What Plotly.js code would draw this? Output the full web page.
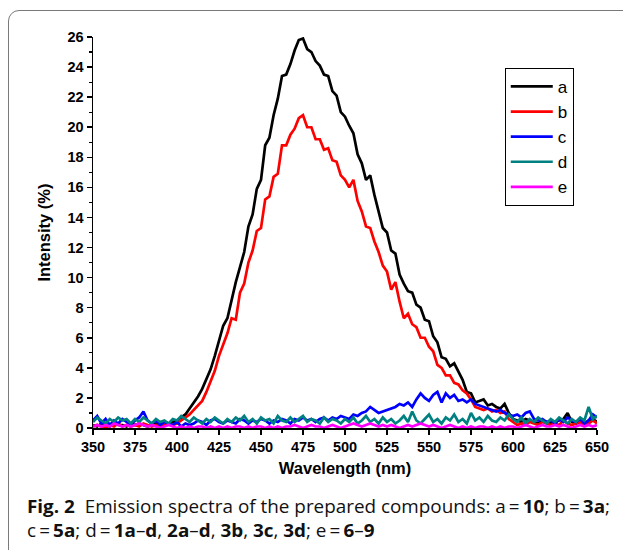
<!DOCTYPE html>
<html>
<head>
<meta charset="utf-8">
<script src="https://cdn.plot.ly/plotly-3.0.1.min.js"></script>
<style>
  html, body { margin: 0; padding: 0; background: #fff; }
  #wrap { position: relative; width: 623px; height: 550px; overflow: hidden; }
  #frame { position: absolute; left: 8px; top: 10px; width: 700px; height: 600px;
           border: 1px solid #7a7a7a; border-radius: 11px; box-sizing: border-box; }
  #chart { position: absolute; left: 0; top: 0; width: 623px; height: 550px; }
  .cap { position: absolute; left: 27px; font-family: "Open Sans", "Noto Sans", sans-serif;
         font-size: 18px; color: #111; white-space: nowrap; transform-origin: 0 0; }
  .cap b { font-weight: 700; }
</style>
</head>
<body>
<div id="wrap">
  <div id="frame"></div>
  <div id="chart"></div>
  <div class="cap" id="cap1" style="top:494px;"><b>Fig. 2</b>&nbsp; Emission spectra of the prepared compounds: a&#8201;=&#8201;<b>10</b>; b&#8201;=&#8201;<b>3a</b>;</div>
  <div class="cap" id="cap2" style="top:518px;">c&#8201;=&#8201;<b>5a</b>; d&#8201;=&#8201;<b>1a</b>–<b>d</b>, <b>2a</b>–<b>d</b>, <b>3b</b>, <b>3c</b>, <b>3d</b>; e&#8201;=&#8201;<b>6</b>–<b>9</b></div>
</div>
<script>
// Wavelength grid (nm)
const wavelength = [350,352.5,355,357.5,360,362.5,365,367.5,370,372.5,375,377.5,380,382.5,385,387.5,390,392.5,395,397.5,
400,402.5,405,407.5,410,412.5,415,417.5,420,422.5,425,427.5,430,432.5,435,437.5,440,442.5,445,447.5,
450,452.5,455,457.5,460,462.5,465,467.5,470,472.5,475,477.5,480,482.5,485,487.5,490,492.5,495,497.5,
500,502.5,505,507.5,510,512.5,515,517.5,520,522.5,525,527.5,530,532.5,535,537.5,540,542.5,545,547.5,
550,552.5,555,557.5,560,562.5,565,567.5,570,572.5,575,577.5,580,582.5,585,587.5,590,592.5,595,597.5,
600,602.5,605,607.5,610,612.5,615,617.5,620,622.5,625,627.5,630,632.5,635,637.5,640,642.5,645,647.5,650];

// Series a (black)
const seriesA = [0.2,0.1,0.3,0.2,0.1,0.3,0.2,0.2,0.1,0.3,0.2,0.3,0.2,0.1,0.2,0.3,0.2,0.4,0.3,0.4,
0.5,0.7,0.9,1.3,1.7,2.1,2.6,3.2,3.9,4.8,5.8,6.8,7.3,8.6,9.7,10.7,11.7,13.4,14.2,15.9,
16.5,18.8,19.3,20.8,21.9,23.4,23.5,24.2,25.1,25.8,25.9,25.2,25.0,24.4,24.1,23.5,23.4,22.4,22.1,21.0,
20.7,20.1,19.6,18.2,17.6,16.5,16.8,15.5,14.4,13.3,13.0,11.8,11.6,10.2,9.6,9.1,9.0,8.2,8.0,7.2,
7.1,6.1,5.7,4.7,4.6,4.1,4.3,3.7,3.2,2.4,2.3,1.7,1.8,1.9,1.5,1.6,1.4,1.3,1.6,1.0,
0.6,0.5,0.4,0.6,0.5,0.4,0.3,0.5,0.4,0.3,0.4,0.5,0.6,1.0,0.4,0.3,0.4,0.3,0.5,0.6,0.4];

// Series b (red)
const seriesB = [0.1,0.2,0.1,0.0,0.2,0.1,0.3,0.1,0.2,0.1,0.2,0.1,0.3,0.2,0.1,0.2,0.1,0.2,0.3,0.2,
0.3,0.5,0.7,0.9,1.2,1.5,1.8,2.4,3.1,3.8,4.8,5.6,6.3,7.3,7.2,9.0,9.6,11.0,11.8,13.1,
13.3,15.2,15.4,16.7,16.9,18.8,18.8,19.5,19.9,20.6,20.8,20.0,20.0,19.2,19.2,18.5,18.6,17.8,17.7,16.8,
16.5,16.0,16.5,15.1,14.4,13.4,13.3,12.4,11.7,10.8,10.4,9.2,9.7,8.4,7.3,7.6,6.9,6.7,6.0,6.0,
5.4,5.1,4.2,4.0,3.5,3.5,3.0,2.9,2.5,2.3,1.9,1.4,1.3,1.2,1.3,1.1,1.2,1.0,1.1,0.6,
0.4,0.2,0.3,0.2,0.4,0.3,0.2,0.4,0.3,0.2,0.3,0.2,0.5,0.3,0.2,0.3,0.4,0.2,0.3,0.5,0.3];

// Series c (blue)
const seriesC = [0.5,0.8,0.3,0.6,0.2,0.5,0.3,0.6,0.4,0.2,0.5,0.7,1.1,0.5,0.3,0.5,0.2,0.4,0.3,0.2,
0.4,0.1,0.3,0.2,0.3,0.5,0.4,0.2,0.5,0.6,0.4,0.3,0.5,0.4,0.3,0.6,0.5,0.3,0.5,0.4,
0.6,0.5,0.3,0.5,0.4,0.6,0.5,0.3,0.6,0.5,0.7,0.5,0.6,0.4,0.6,0.7,0.5,0.7,0.6,0.8,
0.7,0.6,0.9,0.8,1.0,1.1,1.4,1.2,1.0,1.1,1.2,1.3,1.4,1.6,1.5,1.7,1.4,1.9,2.3,2.0,
1.8,2.2,2.4,1.7,2.3,2.0,2.2,1.8,1.9,1.7,1.9,1.6,1.5,1.4,1.3,1.2,1.1,1.2,1.0,0.9,
0.8,0.9,0.7,1.0,1.1,0.6,0.5,0.6,0.4,0.5,0.3,0.6,0.4,0.7,0.5,0.4,0.6,0.3,0.5,0.9,0.7];

// Series d (teal)
const seriesD = [0.4,0.7,0.5,0.3,0.6,0.4,0.7,0.5,0.6,0.3,0.6,0.4,0.7,0.5,0.3,0.6,0.4,0.5,0.3,0.6,
0.5,0.8,0.6,0.4,0.7,0.5,0.3,0.6,0.4,0.7,0.5,0.3,0.6,0.4,0.7,0.5,0.8,0.4,0.6,0.3,
0.7,0.5,0.6,0.3,0.8,0.5,0.4,0.7,0.4,0.6,0.8,0.4,0.6,0.5,0.3,0.7,0.4,0.6,0.5,0.3,
0.6,0.4,0.7,0.3,0.5,0.8,0.4,0.6,0.3,0.7,0.4,0.6,0.3,0.5,0.8,0.4,1.1,0.5,0.3,0.6,
0.9,0.4,0.6,0.3,0.7,0.5,0.9,0.4,0.6,0.3,1.0,0.5,0.7,0.4,0.8,0.5,0.4,0.7,0.5,0.9,
0.6,0.4,0.7,0.3,0.6,0.4,0.7,0.5,0.3,0.6,0.4,0.7,0.5,0.3,0.6,0.4,0.7,0.5,1.4,0.6,0.8];

// Series e (magenta)
const seriesE = [0.1,0.2,0.1,0.2,0.1,0.3,0.2,0.1,0.2,0.1,0.2,0.3,0.2,0.1,0.2,0.1,0.0,0.1,0.2,0.1,
0.0,0.1,0.0,0.1,0.0,0.1,0.1,0.0,0.1,0.0,0.1,0.0,0.1,0.0,0.1,0.1,0.0,0.1,0.0,0.1,
0.1,0.0,0.1,0.0,0.1,0.0,0.1,0.1,0.2,0.1,0.0,0.1,0.2,0.1,0.1,0.0,0.1,0.2,0.1,0.0,
0.1,0.2,0.3,0.2,0.1,0.2,0.3,0.2,0.1,0.2,0.1,0.2,0.1,0.0,0.1,0.2,0.1,0.2,0.3,0.2,
0.1,0.2,0.1,0.0,0.1,0.2,0.1,0.0,0.1,0.0,0.1,0.0,0.1,0.1,0.0,0.1,0.0,0.1,0.0,0.1,
0.1,0.0,0.1,0.2,0.1,0.0,0.1,0.2,0.1,0.1,0.2,0.1,0.2,0.1,0.0,0.1,0.2,0.1,0.2,0.1,0.2];

const seriesNames = ["a", "b", "c", "d", "e"];
const seriesColors = ["#000000", "#ff0000", "#0000ff", "#008080", "#ff00ff"];
const seriesValues = [seriesA, seriesB, seriesC, seriesD, seriesE];
const xTicks = [350,375,400,425,450,475,500,525,550,575,600,625,650];
const yTicks = [0,2,4,6,8,10,12,14,16,18,20,22,24,26];

const traces = seriesValues.map((vals, i) => ({
  type: "scatter", mode: "lines", name: seriesNames[i],
  x: wavelength, y: vals,
  line: { color: seriesColors[i], width: 2.7 }
}));

const axisFont = { family: "Liberation Sans, Arial, sans-serif", size: 14.5, color: "#000", weight: 700 };
const titleFont = { family: "Liberation Sans, Arial, sans-serif", size: 16.5, color: "#000", weight: 700 };

const layout = {
  width: 623, height: 550,
  margin: { l: 93, r: 26, t: 37, b: 122 },
  paper_bgcolor: "rgba(0,0,0,0)", plot_bgcolor: "rgba(0,0,0,0)",
  showlegend: true,
  legend: {
    x: 0.817, y: 0.921, xanchor: "left", yanchor: "top",
    bgcolor: "#ffffff", bordercolor: "#000", borderwidth: 1,
    font: { family: "Liberation Sans, Arial, sans-serif", size: 17, color: "#000" },
    itemwidth: 42, tracegroupgap: 0
  },
  xaxis: {
    range: [350, 650], tickvals: xTicks, ticktext: xTicks.map(String),
    ticks: "outside", ticklen: 5, tickwidth: 1.5, tickcolor: "#000",
    showline: true, linecolor: "#000", linewidth: 1.5,
    showgrid: false, zeroline: false, tickfont: axisFont,
    minor: { dtick: 12.5, tick0: 350, ticks: "outside", ticklen: 3, tickwidth: 1.2, tickcolor: "#000", showgrid: false },
    title: { text: "Wavelength (nm)", font: titleFont, standoff: 8 }
  },
  yaxis: {
    range: [0, 26], tickvals: yTicks, ticktext: yTicks.map(String),
    ticks: "outside", ticklen: 5, tickwidth: 1.5, tickcolor: "#000",
    showline: true, linecolor: "#000", linewidth: 1.5,
    showgrid: false, zeroline: false, tickfont: axisFont,
    minor: { dtick: 1, tick0: 0, ticks: "outside", ticklen: 3, tickwidth: 1.2, tickcolor: "#000", showgrid: false },
    title: { text: "Intensity (%)", font: titleFont, standoff: 12 }
  }
};

Plotly.newPlot("chart", traces, layout, { displayModeBar: false, staticPlot: true }).then(() => {
  const c1 = document.getElementById("cap1");
  const c2 = document.getElementById("cap2");
  const w = c1.getBoundingClientRect().width;
  const s = 583 / w;
  c1.style.transform = "scaleX(" + s + ")";
  c2.style.transform = "scaleX(" + s + ")";
});
</script>
</body>
</html>
